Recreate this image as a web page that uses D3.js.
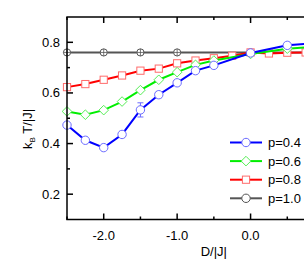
<!DOCTYPE html>
<html>
<head>
<meta charset="utf-8">
<script src="https://cdn.jsdelivr.net/npm/d3@7"></script>
<style>
  body { margin: 0; background: #fff; }
  text { font-family: "Liberation Sans", Arial, sans-serif; }
</style>
</head>
<body>
<div id="main"></div>
<script>
// D/|J| values for each series
const dBlue = [-2.5, -2.25, -2.0, -1.75, -1.5, -1.25, -1.0, -0.75, -0.5, 0.0, 0.5, 1.0]
const tBlue = [0.473, 0.413, 0.384, 0.436, 0.533, 0.593, 0.640, 0.688, 0.709, 0.758, 0.788, 0.80]
const eBlue = [0, 0, 0, 0.012, 0.028, 0.012, 0, 0, 0, 0, 0.01, 0]
const dGreen = [-2.5, -2.25, -2.0, -1.75, -1.5, -1.25, -1.0, -0.75, -0.5, 0.0, 0.5, 1.0]
const tGreen = [0.527, 0.514, 0.532, 0.566, 0.611, 0.652, 0.682, 0.711, 0.728, 0.754, 0.775, 0.785]
const dRed = [-2.5, -2.25, -2.0, -1.75, -1.5, -1.25, -1.0, -0.75, -0.5, -0.25, 0.0, 0.25, 0.5, 0.75, 1.0]
const tRed = [0.623, 0.635, 0.652, 0.669, 0.688, 0.696, 0.717, 0.728, 0.737, 0.747, 0.760, 0.756, 0.759, 0.76, 0.76]
const dGray = [-2.5, -2.0, -1.5, -1.0, 0.0, 1.0]
const tGray = [0.76, 0.76, 0.76, 0.76, 0.76, 0.76]
const xTicks = [-2.0, -1.0, 0.0]
const yTicks = [0.2, 0.4, 0.6, 0.8]
const labels = ["p=0.4", "p=0.6", "p=0.8", "p=1.0"]

const W = 304, H = 273
const svg = d3.select("#main").append("svg").attr("width", W).attr("height", H)

const x = d3.scaleLinear().domain([-2.5, 1.0]).range([67, 324])
const y = d3.scaleLinear().domain([0.1, 0.9]).range([219.5, 17])

const series = [
  {d: dBlue, t: tBlue, e: eBlue, line: "#0000ff", mk: "#6b6bff", shape: "circle"},
  {d: dGreen, t: tGreen, e: null, line: "#00ee00", mk: "#55ee55", shape: "diamond"},
  {d: dRed, t: tRed, e: null, line: "#ff0000", mk: "#ff6b6b", shape: "square"},
  {d: dGray, t: tGray, e: null, line: "#555555", mk: "#555555", shape: "circlecross"}
]

const plot = svg.append("g")
plot.append("clipPath").attr("id", "clip").append("rect")
  .attr("x", 60).attr("y", 10).attr("width", 260).attr("height", 215)
const pg = plot.append("g").attr("clip-path", "url(#clip)")

function marker(g, s, cx, cy) {
  if (s.shape === "circle" || s.shape === "circlecross") {
    g.append("circle").attr("cx", cx).attr("cy", cy).attr("r", s.shape === "circle" ? 4.2 : 3.6)
      .attr("fill", "#fff").attr("stroke", s.mk).attr("stroke-width", 1)
    if (s.shape === "circlecross") {
      g.append("path").attr("d", `M${cx - 3.6},${cy}H${cx + 3.6}M${cx},${cy - 3.6}V${cy + 3.6}`)
        .attr("stroke", s.mk).attr("stroke-width", 0.8)
    }
  } else if (s.shape === "diamond") {
    g.append("path").attr("d", `M${cx},${cy - 4.8}L${cx + 4.8},${cy}L${cx},${cy + 4.8}L${cx - 4.8},${cy}Z`)
      .attr("fill", "#fff").attr("stroke", s.mk).attr("stroke-width", 1)
  } else {
    g.append("rect").attr("x", cx - 3.6).attr("y", cy - 3.6).attr("width", 7.2).attr("height", 7.2)
      .attr("fill", "#fff").attr("stroke", s.mk).attr("stroke-width", 1)
  }
}

// draw gray first so colored lines sit on top
series.slice().reverse().forEach(s => {
  const pts = s.d.map((d, i) => [x(d), y(s.t[i])])
  pg.append("path").attr("d", d3.line()(pts)).attr("fill", "none")
    .attr("stroke", s.line).attr("stroke-width", 2)
  pts.forEach((p, i) => {
    if (s.e && s.e[i] > 0) {
      const y0 = y(s.t[i] - s.e[i]), y1 = y(s.t[i] + s.e[i])
      pg.append("path").attr("d", `M${p[0]},${y0}V${y1}M${p[0] - 3},${y0}H${p[0] + 3}M${p[0] - 3},${y1}H${p[0] + 3}`)
        .attr("stroke", s.mk).attr("stroke-width", 1).attr("fill", "none")
    }
    marker(pg, s, p[0], p[1])
  })
})

// axes frame
const ax = svg.append("g").attr("stroke", "#000").attr("stroke-width", 1.5)
ax.append("line").attr("x1", 67).attr("x2", 67).attr("y1", 17).attr("y2", 219.5)
ax.append("line").attr("x1", 66.3).attr("x2", W).attr("y1", 219.5).attr("y2", 219.5)
ax.append("line").attr("x1", 66.3).attr("x2", W).attr("y1", 17).attr("y2", 17)

const xMinor = d3.range(-2.5, 1.01, 0.5)
xMinor.forEach(v => {
  const major = Math.abs(v - Math.round(v)) < 1e-6
  const len = major ? 6 : 3
  ax.append("line").attr("x1", x(v)).attr("x2", x(v)).attr("y1", 219.5).attr("y2", 219.5 - len)
  ax.append("line").attr("x1", x(v)).attr("x2", x(v)).attr("y1", 17).attr("y2", 17 + len)
})
d3.range(0.2, 0.81, 0.1).forEach(v => {
  const major = Math.round(v * 10) % 2 === 0
  ax.append("line").attr("x1", 67).attr("x2", 67 + (major ? 6 : 3)).attr("y1", y(v)).attr("y2", y(v))
})

svg.selectAll(".xt").data(xTicks).enter().append("text")
  .attr("x", d => x(d)).attr("y", 240).attr("text-anchor", "middle")
  .attr("font-size", 13).text(d => d.toFixed(1))
svg.selectAll(".yt").data(yTicks).enter().append("text")
  .attr("x", 60).attr("y", d => y(d) + 4.5).attr("text-anchor", "end")
  .attr("font-size", 13).text(d => d.toFixed(1))

svg.append("text").attr("x", x(-0.5)).attr("y", 256).attr("text-anchor", "middle")
  .attr("font-size", 13).text("D/|J|")

const yl = svg.append("text").attr("transform", "translate(32,129) rotate(-90)")
  .attr("text-anchor", "middle").attr("font-size", 13)
yl.append("tspan").text("k")
yl.append("tspan").attr("font-size", 8).attr("dy", 3).text("B")
yl.append("tspan").attr("dy", -3).text(" T/|J|")

// legend
const lg = svg.append("g")
labels.forEach((l, i) => {
  const s = series[i]
  const ly = 142.5 + i * 18.6
  lg.append("line").attr("x1", 230).attr("x2", 262).attr("y1", ly).attr("y2", ly)
    .attr("stroke", s.line).attr("stroke-width", 2)
  marker(lg, s.shape === "circlecross" ? {shape: "circle", mk: s.mk} : s, 246, ly)
  lg.append("text").attr("x", 268).attr("y", ly + 4.5).attr("font-size", 13).text(l)
})
</script>
</body>
</html>
